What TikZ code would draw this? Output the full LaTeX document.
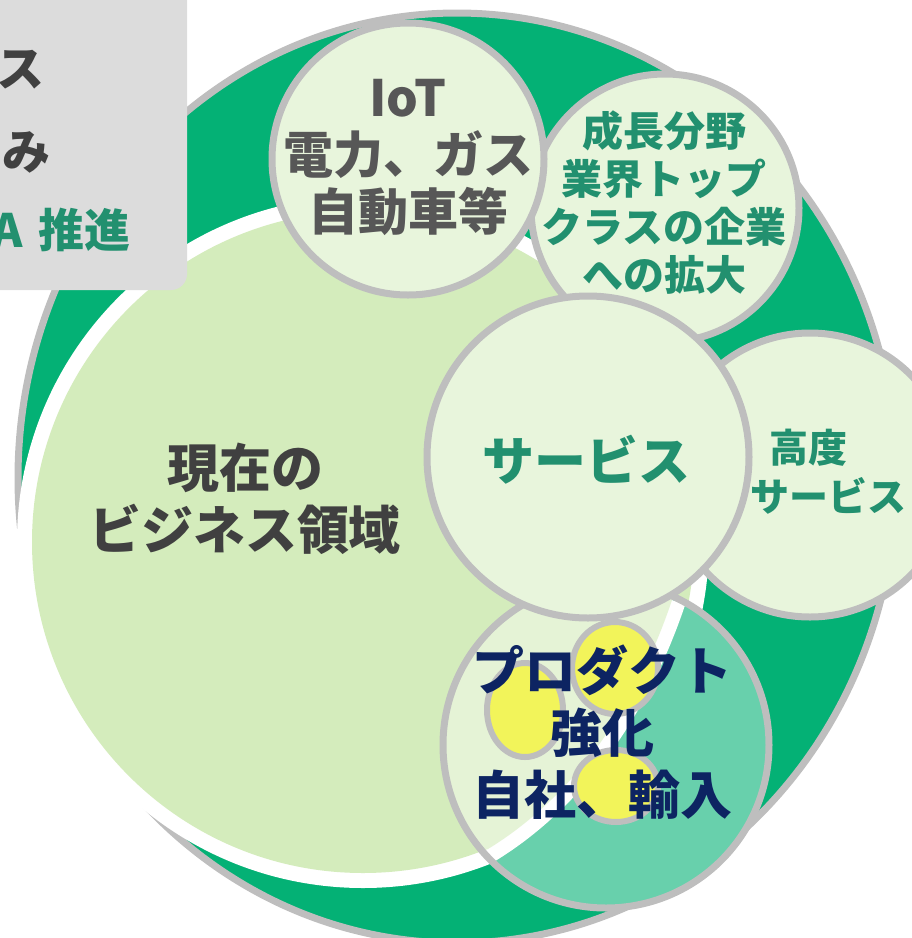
\documentclass[tikz,border=0pt]{standalone}
\usepackage{fontspec}
\setmainfont{Noto Sans CJK JP}
\definecolor{ringgreen}{HTML}{04B175}
\definecolor{ringgray}{HTML}{BEBEBE}
\definecolor{basegreen}{HTML}{D4ECBC}
\definecolor{bubblefill}{HTML}{E8F5DC}
\definecolor{boxgray}{HTML}{DCDCDC}
\definecolor{darktext}{HTML}{404040}
\definecolor{iottext}{HTML}{575757}
\definecolor{leafgreen}{HTML}{22906F}
\definecolor{navytext}{HTML}{0D2462}
\definecolor{lemon}{HTML}{F2F45A}
\begin{document}
\begin{tikzpicture}[x=1pt,y=-1pt,
	bubble/.style={fill=bubblefill,draw=ringgray,line width=7pt},
	seed/.style={fill=lemon,draw=ringgray,line width=6pt},
	lab/.style={align=center,inner sep=0pt},
	pt41/.style={font=\fontsize{41}{48}\selectfont\bfseries},
	pt50/.style={font=\fontsize{50}{57}\selectfont\bfseries},
	pt52/.style={font=\fontsize{52}{62}\selectfont\bfseries}]
		\useasboundingbox (0,0) rectangle (912,938);
		\clip (0,0) rectangle (912,938);

		% outer ring and base area
		\filldraw[fill=ringgreen,draw=ringgray,line width=7pt] (457,478) ellipse (439pt and 465pt);
		\fill[white] (363,542) circle (346pt);
		\fill[basegreen] (363,542) circle (331pt);

		% bubbles
		\filldraw[bubble] (665,208) circle (134pt);
		\filldraw[bubble] (408,159) circle (136pt);

		% product circle, base edge seen through it
		\begin{scope}
			\clip (606,745) circle (163pt);
			\fill[ringgreen] (606,745) circle (163pt);
			\draw[white,line width=28pt] (455,860) -- (488,849) .. controls (560,805) and (630,725) .. (672,600);
			\fill[basegreen] (455,860) -- (488,849) .. controls (560,805) and (630,725) .. (672,600) -- (700,560) -- (430,560) -- cycle;
		\end{scope}
		\filldraw[fill=white,fill opacity=0.4,draw=ringgray,line width=7pt] (606,745) circle (163pt);
		\filldraw[seed] (525,710) ellipse (38pt and 47pt);
		\filldraw[seed] (615,668) ellipse (43pt and 46pt);
		\filldraw[seed] (616,786) ellipse (42pt and 36pt);
		\filldraw[bubble] (810,475) circle (142pt);
		\filldraw[bubble] (588,457) circle (161pt);

		% labels
		\node[lab,pt52,text=darktext] (base) at (245,499) {現在の\\ビジネス領域};
		\node[lab,pt50,text=iottext] (iot) at (408,157) {IoT\\電力、ガス\\自動車等};
		\node[lab,pt41,text=leafgreen] (growth) at (664,203) {成長分野\\業界トップ\\クラスの企業\\への拡大};
		\node[lab,pt52,text=leafgreen] (service) at (586,460) {サービス};
		\node[lab,text=leafgreen,font=\fontsize{39}{49}\selectfont\bfseries] (advanced) at (828,472) {高度\hphantom{高}\\サービス};
		\node[lab,pt52,text=navytext] (product) at (602,732) {プロダクト\\強化\\自社、輸入};

		% side box
		\fill[boxgray,rounded corners=16pt] (-40,-40) rectangle (187,290);
		\node[lab,anchor=east,text=darktext,font=\fontsize{48}{56}\selectfont\bfseries] (boxa) at (45,70) {ス};
		\node[lab,anchor=east,text=darktext,font=\fontsize{48}{56}\selectfont\bfseries] (boxb) at (51,152) {み};
		\node[lab,anchor=east,text=leafgreen,font=\fontsize{46}{52}\selectfont\bfseries] (boxc) at (131,230) {A\kern16pt 推進};
\end{tikzpicture}
\end{document}
